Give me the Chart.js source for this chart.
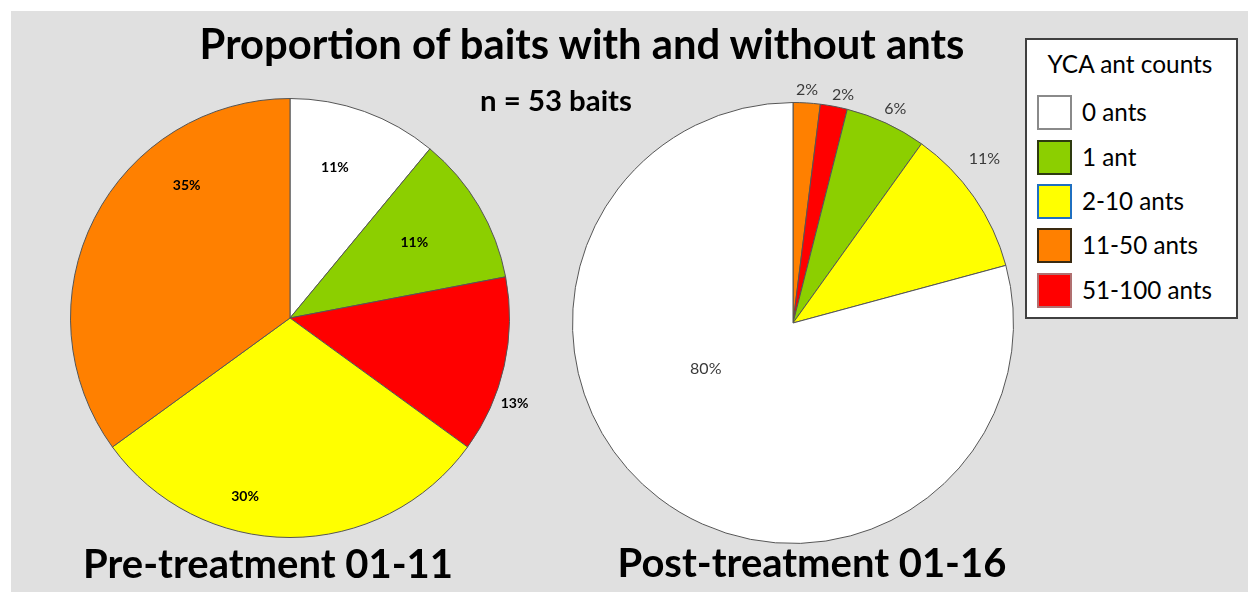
<!DOCTYPE html>
<html>
<head>
<meta charset="utf-8">
<title>Proportion of baits with and without ants</title>
<script src="https://cdn.jsdelivr.net/npm/chart.js@4.4.1/dist/chart.umd.min.js"></script>
<style>
  html, body { margin: 0; padding: 0; background: #ffffff; }
  #stage { position: relative; width: 1248px; height: 592px; overflow: hidden; background: #ffffff; }
  #panel { position: absolute; left: 11px; top: 11px; right: 0; bottom: 0; background: #e0e0e0; }
  canvas { position: absolute; left: 0; top: 0; pointer-events: none; }
  .txt { position: absolute; white-space: nowrap; line-height: 1; color: #000;
         font-family: Lato, "Open Sans", "DejaVu Sans", sans-serif; }
  .bold { font-weight: 700; }
  #legend { position: absolute; left: 1025px; top: 38px; width: 209px; height: 277px;
            background: #ffffff; border: 2px solid #404040; }
  .swatch { position: absolute; left: 1037px; width: 31px; height: 31px; border: 2px solid #333; }
</style>
</head>
<body>
<div id="stage">
  <div id="panel"></div>
  <canvas id="preChart" width="1248" height="592"></canvas>
  <canvas id="postChart" width="1248" height="592"></canvas>
  <div id="legend"></div>
  <div id="title" class="txt bold">Proportion of baits with and without ants</div>
  <div id="subtitle" class="txt bold">n = 53 baits</div>
  <div id="preTitle" class="txt bold">Pre-treatment 01-11</div>
  <div id="postTitle" class="txt bold">Post-treatment 01-16</div>
  <div id="legendTitle" class="txt">YCA ant counts</div>
</div>
<script>
// Ant-count classes and their fill colours
const categories = ['0 ants', '1 ant', '2-10 ants', '11-50 ants', '51-100 ants'];
const categoryColors = ['#ffffff', '#8ccf00', '#ffff00', '#ff8000', '#ff0000'];
const swatchBorders = ['#8a8a8a', '#2e3a10', '#1f6fc0', '#3a2a10', '#b07070'];

// Pre-treatment survey (percent of baits), slices clockwise from 12 o'clock
const preCategories = ['0 ants', '1 ant', '51-100 ants', '2-10 ants', '11-50 ants'];
const preValues = [11, 11, 13, 30, 35];

// Post-treatment survey (percent of baits), slices clockwise from 12 o'clock
const postCategories = ['11-50 ants', '51-100 ants', '1 ant', '2-10 ants', '0 ants'];
const postValues = [2, 2, 6, 11, 80];

function colorsFor(list) {
  return list.map(c => categoryColors[categories.indexOf(c)]);
}

// Percentage labels placed inside/outside each slice
const sliceLabels = {
  id: 'sliceLabels',
  afterDatasetsDraw(chart, args, opts) {
    const ctx = chart.ctx;
    const meta = chart.getDatasetMeta(0);
    const data = chart.data.datasets[0].data;
    meta.data.forEach((arc, i) => {
      const p = arc.getProps(['x', 'y', 'startAngle', 'endAngle', 'outerRadius'], true);
      const a = p.startAngle + (p.endAngle - p.startAngle) * opts.along[i];
      const r = p.outerRadius * opts.radial[i];
      ctx.save();
      ctx.font = opts.font;
      ctx.fillStyle = opts.color;
      ctx.textAlign = 'center';
      ctx.textBaseline = 'middle';
      ctx.fillText(data[i] + '%', p.x + Math.cos(a) * r, p.y + Math.sin(a) * r);
      ctx.restore();
    });
  }
};

function makePie(id, labels, values, padding, labelOpts) {
  return new Chart(document.getElementById(id), {
    type: 'pie',
    data: {
      labels: labels,
      datasets: [{
        data: values,
        backgroundColor: colorsFor(labels),
        borderColor: '#555555',
        borderWidth: 1
      }]
    },
    options: {
      responsive: false,
      animation: false,
      events: [],
      layout: { padding: padding },
      plugins: {
        legend: { display: false },
        tooltip: { enabled: false },
        sliceLabels: labelOpts
      }
    },
    plugins: [sliceLabels]
  });
}

makePie('preChart', preCategories, preValues,
  { left: 70, top: 98, right: 738, bottom: 54 },
  { font: 'bold 14px Lato, "Open Sans", sans-serif', color: '#000000',
    along: [0.42, 0.485, 0.675, 0.631, 0.698],
    radial: [0.715, 0.662, 1.094, 0.838, 0.764] });

makePie('postChart', postCategories, postValues,
  { left: 572, top: 102, right: 234, bottom: 48 },
  { font: '16px Lato, "Open Sans", sans-serif', color: '#3a3a3a',
    along: [0.48, 0.735, 0.526, 0.349, 0.587],
    radial: [1.061, 1.061, 1.078, 1.144, 0.447] });

// Text placement: scale to a given width, then sit on a given baseline
function place(el, o) {
  const mark = document.createElement('span');
  mark.style.cssText = 'display:inline-block;width:0;height:0;vertical-align:baseline';
  el.appendChild(mark);
  el.style.left = '0px';
  el.style.top = '0px';
  if (o.width) {
    el.style.fontSize = '100px';
    const w0 = el.getBoundingClientRect().width;
    el.style.fontSize = (100 * o.width / w0) + 'px';
  } else if (o.size) {
    el.style.fontSize = o.size + 'px';
  }
  const box = el.getBoundingClientRect();
  const base = mark.getBoundingClientRect().top - box.top;
  el.style.top = (o.baseline - base) + 'px';
  el.style.left = (o.cx !== undefined ? o.cx - box.width / 2 : o.left) + 'px';
  return parseFloat(el.style.fontSize);
}

place(document.getElementById('title'), { cx: 582, baseline: 59, width: 765 });
place(document.getElementById('subtitle'), { cx: 556, baseline: 111, width: 152 });
place(document.getElementById('preTitle'), { cx: 268, baseline: 578, width: 370 });
place(document.getElementById('postTitle'), { cx: 812, baseline: 577, width: 389 });
place(document.getElementById('legendTitle'), { cx: 1130, baseline: 73, width: 165 });

// Legend entries
const stage = document.getElementById('stage');
const swatchTops = [95, 140, 184, 228, 273];
let itemSize = null;
const order = categories.slice().sort((a, b) => b.length - a.length);
const labelEls = {};
categories.forEach((c, i) => {
  const sw = document.createElement('div');
  sw.className = 'swatch';
  sw.style.top = swatchTops[i] + 'px';
  sw.style.background = categoryColors[i];
  sw.style.borderColor = swatchBorders[i];
  stage.appendChild(sw);
  const t = document.createElement('div');
  t.className = 'txt';
  t.textContent = c;
  stage.appendChild(t);
  labelEls[c] = t;
});
itemSize = place(labelEls[order[0]], { left: 1082, baseline: swatchTops[categories.indexOf(order[0])] + 26, width: 130 });
categories.forEach((c, i) => {
  if (c !== order[0]) place(labelEls[c], { left: 1082, baseline: swatchTops[i] + 26, size: itemSize });
});
</script>
</body>
</html>
